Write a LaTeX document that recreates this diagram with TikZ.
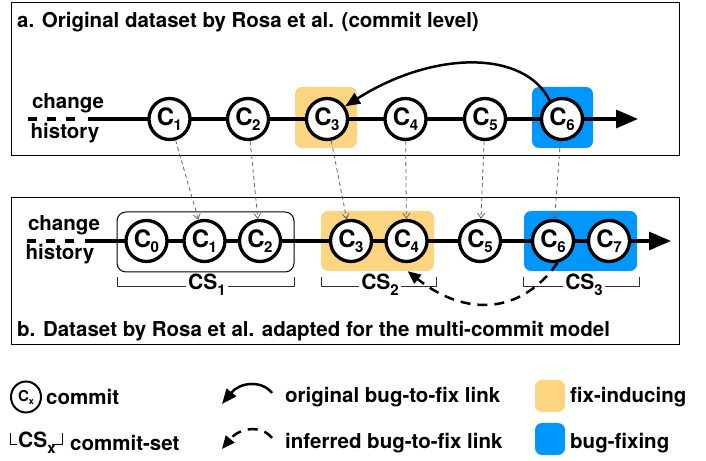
\documentclass[tikz,border=0pt]{standalone}
\usepackage{fontspec}
\setmainfont{TeX Gyre Heros}
\usetikzlibrary{arrows.meta,shapes.geometric}
\definecolor{fixind}{RGB}{253,212,127}
\definecolor{bugfix}{RGB}{0,150,255}
\newcommand\cc[1]{{\fontsize{24}{24}\selectfont C}\kern-0.5pt\raisebox{-5pt}{\fontsize{15}{15}\selectfont #1}}
\newcommand\css[1]{{\fontsize{21}{21}\selectfont CS}\raisebox{-6pt}{\fontsize{15}{15}\selectfont #1}}
\begin{document}
\begin{tikzpicture}[x=1pt,y=1pt,
  every node/.style={font=\bfseries\fontsize{20.5}{24}\selectfont, inner sep=0pt},
  commit/.style={circle, draw, line width=3.3pt, fill=white, minimum size=41pt, inner sep=0pt},
  panel/.style={draw, line width=1pt},
  hlbox/.style={rounded corners=7pt, draw=none, inner sep=0pt},
  timeline/.style={line width=3.2pt, -{Triangle[length=22pt,width=18pt]}},
  histdash/.style={line width=3.2pt, dash pattern=on 9pt off 10pt},
  trace/.style={draw=black!60, line width=0.8pt, dash pattern=on 4pt off 3pt, -{Straight Barb[length=5pt,width=7pt]}},
  origlink/.style={line width=2.5pt, -{Triangle[length=15pt,width=12pt]}},
  inflink/.style={line width=2.5pt, dash pattern=on 10pt off 7pt, -{Triangle[length=13pt,width=11pt]}},
  bracket/.style={line width=1pt, black!80},
  cslabel/.style={fill=white, inner xsep=2pt, inner ysep=0pt}
]
\useasboundingbox (0,0) rectangle (706,460);

% ---------- panel a ----------
\node[panel, minimum width=668pt, minimum height=153pt, anchor=south west] (pa) at (11,304) {};
\node[anchor=west] (ta) at (17,438) {a. Original dataset by Rosa et al. (commit level)};

\node[hlbox, fill=fixind, minimum width=62pt, minimum height=61pt] (ha3) at (326,342.5) {};
\node[hlbox, fill=bugfix, minimum width=61pt, minimum height=61pt] (ha6) at (562.5,342.5) {};

\node (cha) at (68,357) {change};
\node (hia) at (65,327) {history};
\coordinate (da0) at (28,341);
\coordinate (da1) at (80,341);
\draw[histdash] (da0) -- (da1);
\coordinate (tas) at (88,341);
\coordinate (tae) at (638,341);
\draw[timeline] (tas) -- (tae);

\node[commit] (a1) at (169.5,341) {\cc{1}};
\node[commit] (a2) at (248,341) {\cc{2}};
\node[commit] (a3) at (327,341) {\cc{3}};
\node[commit] (a4) at (405.5,341) {\cc{4}};
\node[commit] (a5) at (485,341) {\cc{5}};
\node[commit] (a6) at (562,341) {\cc{6}};

\draw[origlink] (a6.124) .. controls (525,410) and (434,410) .. (a3.35);

% ---------- panel b ----------
\node[panel, minimum width=668pt, minimum height=147pt, anchor=south west] (pb) at (11,115) {};
\node[anchor=west] (tb) at (17,129) {b. Dataset by Rosa et al. adapted for the multi-commit model};

\node[draw, line width=1pt, rounded corners=9pt, minimum width=177pt, minimum height=60pt] (cs1) at (205.5,218) {};
\node[hlbox, fill=fixind, minimum width=113pt, minimum height=60pt] (cs2) at (377.5,219) {};
\node[hlbox, fill=bugfix, minimum width=113pt, minimum height=60pt] (cs3) at (580.5,219) {};

\node (chb) at (64,235) {change};
\node (hib) at (60,206) {history};
\coordinate (db0) at (27,219);
\coordinate (db1) at (78,219);
\draw[histdash] (db0) -- (db1);
\coordinate (tbs) at (85,219);
\coordinate (tbe) at (671,219);
\draw[timeline] (tbs) -- (tbe);

\node[commit] (b0) at (146.5,219) {\cc{0}};
\node[commit] (b1) at (204.5,219) {\cc{1}};
\node[commit] (b2) at (260,219) {\cc{2}};
\node[commit] (b3) at (351,219) {\cc{3}};
\node[commit] (b4) at (406.5,219) {\cc{4}};
\node[commit] (b5) at (480,219) {\cc{5}};
\node[commit] (b6) at (553,219) {\cc{6}};
\node[commit] (b7) at (609,219) {\cc{7}};

% brackets
\draw[bracket] (117,183) -- (117,173) -- (294,173) -- (294,183);
\node[cslabel] (l1) at (207,175) {\css{1}};
\draw[bracket] (321,183) -- (321,173) -- (436,173) -- (436,183);
\node[cslabel] (l2) at (380,175) {\css{2}};
\draw[bracket] (523,183) -- (523,173) -- (639,173) -- (639,183);
\node[cslabel] (l3) at (584,175) {\css{3}};

\draw[inflink] (b6.-78) .. controls (520,144) and (464,144) .. (cs2.-45);

% traces a -> b
\draw[trace] (a1) -- (b1);
\draw[trace] (a2) -- (b2);
\draw[trace] (a3) -- (b3);
\draw[trace] (a4) -- (b4);
\draw[trace] (a5) -- (b5);
\draw[trace] (a6) -- (b6);

% ---------- legend ----------
\node[ellipse, draw, line width=2pt, minimum width=30pt, minimum height=31pt, inner sep=0pt] (lgc) at (26,63)
  {{\fontsize{15}{15}\selectfont C}\raisebox{-3pt}{\fontsize{9}{9}\selectfont x}};
\node[anchor=west] (lgct) at (46,63) {commit};

\draw[line width=1pt] (10,27) -- (10,15) -- (17,15);
\node[anchor=west] (lgcs) at (18,17) {\css{x}};
\draw[line width=1pt] (52,15) -- (62,15) -- (62,27);
\node[anchor=west] (lgcst) at (70,17) {commit-set};

\coordinate (lo0) at (272,67);
\coordinate (lo1) at (222,56);
\draw[origlink] (lo0) .. controls (262,80) and (240,78) .. (lo1);
\node[anchor=west] (lot) at (285,63) {original bug-to-fix link};

\coordinate (li0) at (272,22);
\coordinate (li1) at (222,11);
\draw[inflink] (li0) .. controls (262,35) and (240,33) .. (li1);
\node[anchor=west] (lit) at (285,17) {inferred bug-to-fix link};

\node[hlbox, fill=fixind, minimum width=30pt, minimum height=32pt] (lgo) at (550,64) {};
\node[anchor=west] (lgot) at (570,63) {fix-inducing};
\node[hlbox, fill=bugfix, minimum width=30pt, minimum height=32pt] (lgb) at (550,21) {};
\node[anchor=west] (lgbt) at (570,17) {bug-fixing};
\end{tikzpicture}
\end{document}
